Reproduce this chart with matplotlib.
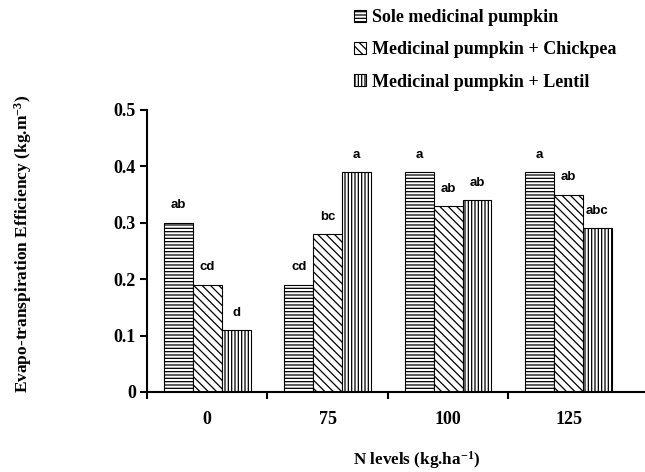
import matplotlib
matplotlib.use('Agg')
import matplotlib.pyplot as plt
import numpy as np

levels = ['0', '75', '100', '125']
series_names = ['Sole medicinal pumpkin',
                'Medicinal pumpkin + Chickpea',
                'Medicinal pumpkin + Lentil']
sole = [0.30, 0.19, 0.39, 0.39]
chickpea = [0.19, 0.28, 0.33, 0.35]
lentil = [0.11, 0.39, 0.34, 0.29]
sole_letters = ['ab', 'cd', 'a', 'a']
chickpea_letters = ['cd', 'bc', 'ab', 'ab']
lentil_letters = ['d', 'a', 'ab', 'abc']

plt.rcParams['hatch.linewidth'] = 0.9
plt.rcParams['mathtext.default'] = 'regular'
serif = 'Liberation Serif'

fig = plt.figure(figsize=(6.45, 4.72), dpi=100)
ax = fig.add_axes([147/645, 1-392/472, 498/645, 282/472])

x = np.arange(len(levels))
w = 0.24
hatches = ['-----', '\\\\\\\\', '|||||']
values = [sole, chickpea, lentil]
letters = [sole_letters, chickpea_letters, lentil_letters]

for i, (vals, labs) in enumerate(zip(values, letters)):
    pos = x + (i - 1) * w
    ax.bar(pos, vals, w, color='white', edgecolor='black', linewidth=0.8,
           hatch=hatches[i], label=series_names[i])
    for p, v, t in zip(pos, vals, labs):
        ax.annotate(t, (p, v), xytext=(0, 12.5), textcoords='offset points',
                    ha='center', va='center', fontsize=9.5, fontweight='bold',
                    family='Liberation Sans')

ax.set_xlim(-0.5, 3.635)
ax.set_ylim(0, 0.5)
ax.set_yticks([0, 0.1, 0.2, 0.3, 0.4, 0.5])
ax.set_yticklabels(['0', '0.1', '0.2', '0.3', '0.4', '0.5'])
ax.set_xticks([-0.5, 0.5, 1.5, 2.5])
ax.set_xticklabels([])
ax.set_xticks(x, minor=True)
ax.set_xticklabels(levels, minor=True)
ax.tick_params(axis='x', which='major', direction='out', length=5, width=1.5)
ax.tick_params(axis='x', which='minor', length=0, pad=14, labelsize=13)
ax.tick_params(axis='y', direction='out', length=5, width=1.5, pad=3, labelsize=13)
for lab in ax.get_xticklabels(minor=True) + ax.get_yticklabels():
    lab.set_family(serif)
    lab.set_fontweight('bold')

for s in ['top', 'right']:
    ax.spines[s].set_visible(False)
for s in ['left', 'bottom']:
    ax.spines[s].set_linewidth(1.5)

ax.set_ylabel('Evapo-transpiration Efficiency (kg.m$^{-3}$)',
              family=serif, fontweight='bold', fontsize=12.5)
ax.yaxis.set_label_coords(-0.226, 0.525)
ax.set_xlabel('N levels (kg.ha$^{-1}$)', family=serif,
              fontweight='bold', fontsize=12.3)
ax.xaxis.set_label_coords(0.542, -0.203)

leg = fig.legend(loc='upper left', bbox_to_anchor=(354/645, 1 - 9/472),
                 frameon=False, handlelength=0.65, handleheight=0.65,
                 handletextpad=0.35, labelspacing=0.85, borderpad=0,
                 borderaxespad=0,
                 prop={'family': serif, 'weight': 'bold', 'size': 13})

fig.savefig('out.png', dpi=100)
